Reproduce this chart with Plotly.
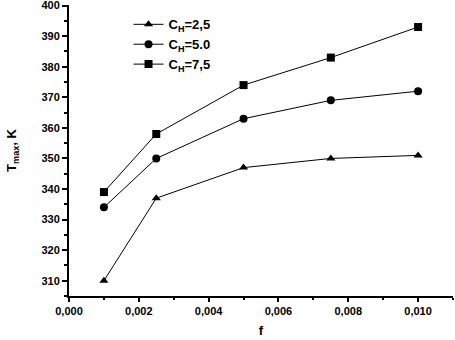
import plotly.graph_objects as go

f_vals = [0.001, 0.0025, 0.005, 0.0075, 0.010]
t_ch25 = [310, 337, 347, 350, 351]
t_ch50 = [334, 350, 363, 369, 372]
t_ch75 = [339, 358, 374, 383, 393]

series_names = ["C<sub>H</sub>=2,5", "C<sub>H</sub>=5.0", "C<sub>H</sub>=7,5"]
x_tick_vals = [0.000, 0.002, 0.004, 0.006, 0.008, 0.010]
x_tick_text = ["0,000", "0,002", "0,004", "0,006", "0,008", "0,010"]
y_tick_vals = [310, 320, 330, 340, 350, 360, 370, 380, 390, 400]

font_family = "Liberation Sans, Arial, sans-serif"

fig = go.Figure()
for ys, name, sym in [(t_ch25, series_names[0], "triangle-up"),
                      (t_ch50, series_names[1], "circle"),
                      (t_ch75, series_names[2], "square")]:
    fig.add_trace(go.Scatter(
        x=f_vals, y=ys, name="<b>" + name + "</b>", mode="lines+markers",
        line=dict(color="black", width=1),
        marker=dict(symbol=sym, size=8, color="black"),
    ))

fig.update_layout(
    width=455, height=340,
    margin=dict(l=69, r=2, t=5, b=44),
    paper_bgcolor="white", plot_bgcolor="white",
    font=dict(family=font_family, color="black", size=11),
    showlegend=True,
    legend=dict(x=0.155, y=0.985, xanchor="left", yanchor="top",
                bgcolor="rgba(0,0,0,0)", font=dict(size=13, family=font_family),
                itemwidth=30, tracegroupgap=0),
    xaxis=dict(
        range=[0, 0.011], showgrid=False, zeroline=False, automargin=False,
        showline=True, linecolor="black", linewidth=2,
        ticks="outside", ticklen=4, tickwidth=1.5, tickcolor="black",
        tickvals=x_tick_vals, ticktext=["<b>" + t + "</b>" for t in x_tick_text],
        tickfont=dict(size=11, family=font_family),
        ticklabeloverflow="allow",
        minor=dict(ticks="outside", ticklen=2, dtick=0.001, tickcolor="black", showgrid=False),
        title=dict(text="<b>f</b>", font=dict(size=13), standoff=10),
    ),
    yaxis=dict(
        range=[305, 400.2], showgrid=False, zeroline=False, automargin=False,
        showline=True, linecolor="black", linewidth=2,
        ticks="outside", ticklen=5, tickwidth=1.5, tickcolor="black",
        tickvals=y_tick_vals, ticktext=["<b>%d</b>" % v for v in y_tick_vals],
        tickfont=dict(size=11, family=font_family),
        ticklabeloverflow="allow",
        minor=dict(ticks="outside", ticklen=3, dtick=5, tickcolor="black", showgrid=False),
        title=dict(text="<b>T<sub>max</sub>, K</b>", font=dict(size=13), standoff=22),
    ),
)

fig.write_html("out.html", config={"displayModeBar": False},
               post_script="document.body.style.margin='0';")
